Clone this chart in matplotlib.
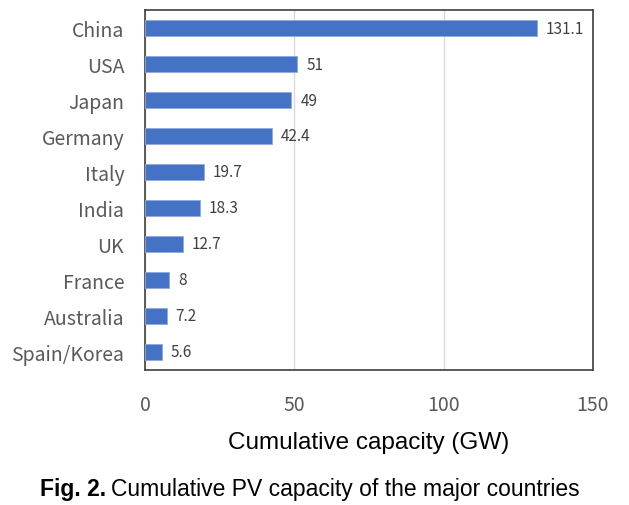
import matplotlib.pyplot as plt
from matplotlib.transforms import offset_copy

countries = ["China", "USA", "Japan", "Germany", "Italy", "India", "UK",
             "France", "Australia", "Spain/Korea"]
capacity = [131.1, 51, 49, 42.4, 19.7, 18.3, 12.7, 8, 7.2, 5.6]
value_labels = ["131.1", "51", "49", "42.4", "19.7", "18.3", "12.7", "8", "7.2", "5.6"]
x_ticks = [0, 50, 100, 150]

tick_font = ["Noto Sans CJK KR", "DejaVu Sans"]
grey = "#595959"

fig = plt.figure(figsize=(6.29, 5.06), dpi=100)
ax = fig.add_axes([145 / 629, 1 - 371 / 506, 448 / 629, 360 / 506])

pos = list(range(len(countries)))
ax.barh(pos, capacity, height=0.47, color="#4472C4", edgecolor="#8FAADC",
        linewidth=0.6, zorder=3)
for p, v, lab in zip(pos, capacity, value_labels):
    ax.text(v + 3, p, lab, va="center", ha="left", fontsize=11,
            color="#404040", family=tick_font)

ax.set_xlim(0, 150)
ax.set_ylim(len(countries) - 0.5, -0.5)
ax.set_yticks(pos)
ax.set_yticklabels(countries, fontsize=14, color=grey, family=tick_font,
                   fontweight="light")
ax.set_xticks(x_ticks)
ax.set_xticklabels([str(t) for t in x_ticks], fontsize=14, color=grey,
                   family=tick_font, fontweight="light")
ax.tick_params(axis="both", length=0)
ax.tick_params(axis="x", pad=17)
ax.tick_params(axis="y", pad=15)
ax.grid(axis="x", color="#d9d9d9", linewidth=1, zorder=0)
for s in ax.spines.values():
    s.set_color("#404040")
    s.set_linewidth(1.2)

ax.set_xlabel("Cumulative capacity (GW)", fontsize=17.5, family="Liberation Sans",
              labelpad=12)

# caption: bold "Fig. 2." followed by normal text
cap_y = 1 - 490 / 506
t1 = fig.text(40 / 629, cap_y, "Fig. 2.", fontsize=16.5, fontweight="bold",
              family="Liberation Sans", va="center", ha="left")
fig.canvas.draw()
w = t1.get_window_extent().width
fig.text(40 / 629, cap_y, "Cumulative PV capacity of the major countries",
         fontsize=16.5, family="Liberation Sans", va="center", ha="left",
         transform=offset_copy(fig.transFigure, fig=fig, x=w + 5, y=0, units="dots"))

fig.savefig("out.png", dpi=100)
